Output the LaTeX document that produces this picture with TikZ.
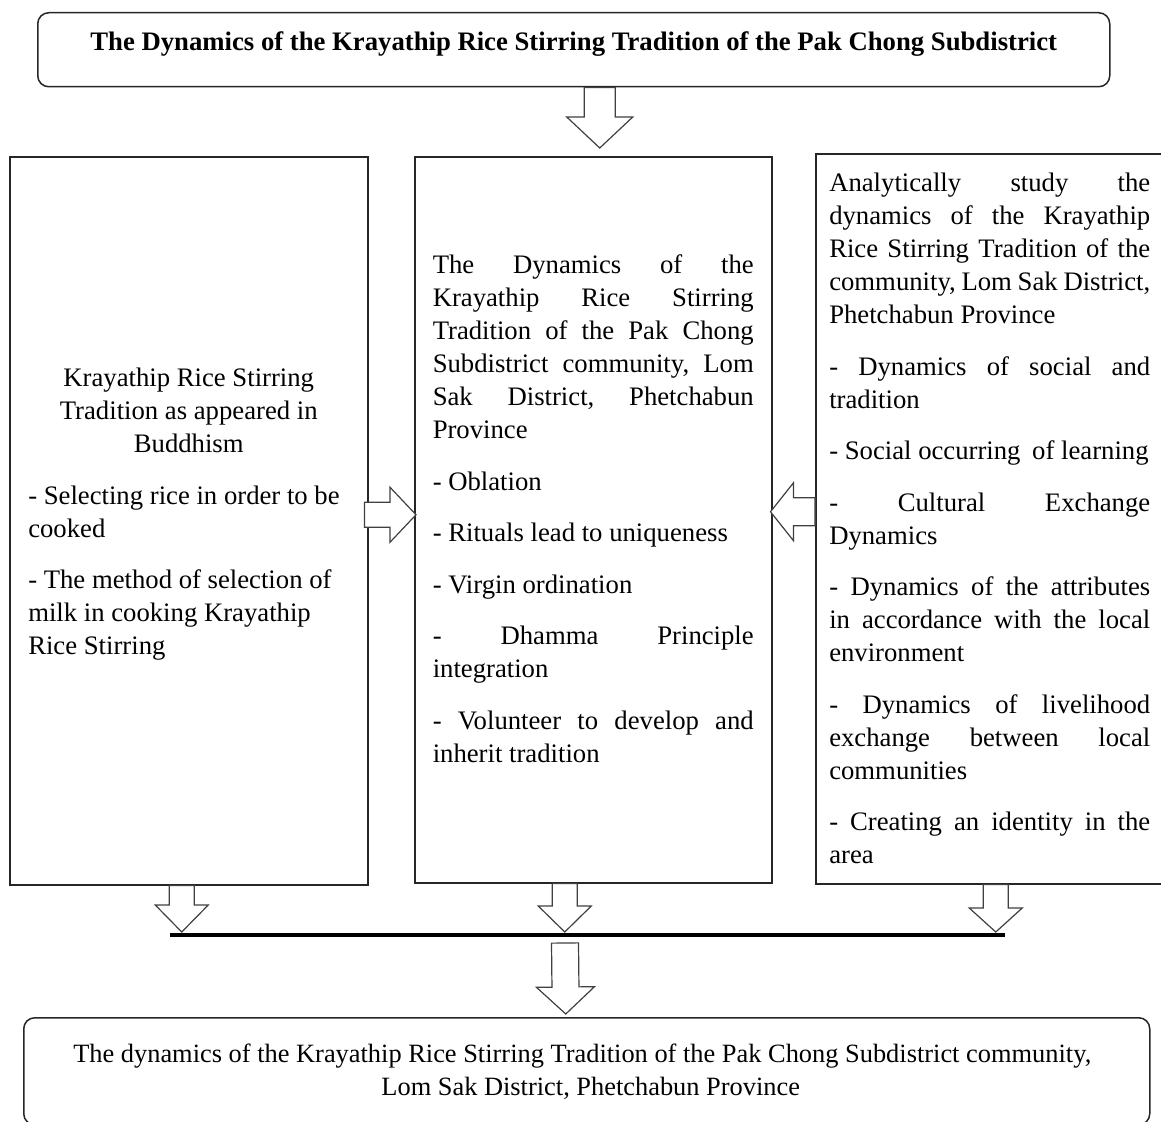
\documentclass[tikz,border=0pt]{standalone}
\usepackage{fontspec}
\setmainfont{Liberation Serif}
\usetikzlibrary{calc}
\frenchspacing

\newcommand{\blockarrow}[5]{%
    \coordinate (ah) at ($(#2)!#5!(#1)$);
    \draw[blockarrow] ($(#1)!#3!90:(#2)$) -- ($(ah)!#3!90:(#2)$) -- ($(ah)!#4!90:(#2)$) -- (#2)
        -- ($(ah)!#4!-90:(#2)$) -- ($(ah)!#3!-90:(#2)$) -- ($(#1)!#3!-90:(#2)$) -- cycle;
}
\newcommand{\lift}[1]{\rule[-#1]{0pt}{#1}}

\begin{document}
\begin{tikzpicture}[
        x=1pt, y=-1pt,
        every node/.style={font=\fontsize{26.7}{33}\selectfont, inner sep=0pt},
        roundbox/.style={draw=black!85, line width=1.5pt, rounded corners=11pt, anchor=north west},
        colbox/.style={draw=black!85, line width=1.5pt, anchor=north west, text width=321pt, align=justify,
            execute at begin node={\setlength{\parskip}{18.5pt}\hyphenpenalty=10000\tolerance=10000\hbadness=10000}},
        blockarrow/.style={draw=black!75, line width=1.2pt, fill=white},
        bar/.style={line width=3.5pt},
    ]
    \useasboundingbox (0,0) rectangle (1161,1121);

    \node[roundbox, minimum width=1072, minimum height=74, text height=19, text depth=17,
        font=\fontsize{26.7}{33}\selectfont\bfseries] (title) at (37,12)
        {The Dynamics of the Krayathip Rice Stirring Tradition of the Pak Chong Subdistrict};

    \node[colbox, minimum width=358, minimum height=728] (left) at (9,156) {%
        {\centering Krayathip Rice Stirring\\ Tradition as appeared in\\ Buddhism\par}
        \raggedright
        - Selecting rice in order to be\newline cooked\par
        - The method of selection of\newline milk in cooking Krayathip\newline Rice Stirring\lift{19pt}};

    \node[colbox, minimum width=357, minimum height=726] (mid) at (414,156) {%
        The Dynamics of the\linebreak Krayathip Rice Stirring\linebreak Tradition of the Pak Chong\linebreak
        Subdistrict community, Lom\linebreak Sak District, Phetchabun\linebreak Province\par
        - Oblation\par
        - Rituals lead to uniqueness\par
        - Virgin ordination\par
        - Dhamma Principle\linebreak integration\par
        - Volunteer to develop and\linebreak inherit tradition\lift{22pt}};

    \node[colbox, minimum width=348, minimum height=730] (right) at (815,153) {%
        Analytically study the\linebreak dynamics of the Krayathip\linebreak Rice Stirring Tradition of the\linebreak
        community, Lom Sak District,\linebreak Phetchabun Province\par
        - Dynamics of social and\linebreak tradition\par
        - Social occurring\hspace{5pt} of learning\par
        - Cultural Exchange\linebreak Dynamics\par
        - Dynamics of the attributes\linebreak in accordance with the local\linebreak environment\par
        - Dynamics of livelihood\linebreak exchange between local\linebreak communities\par
        - Creating an identity in the\linebreak area};

    \node[roundbox, minimum width=1126, minimum height=107, align=center,
        font=\fontsize{26.4}{33}\selectfont] (result) at (23,1017)
        {The dynamics of the Krayathip Rice Stirring Tradition of the Pak Chong Subdistrict community,\hspace*{9pt}\\
        Lom Sak District, Phetchabun Province\hspace*{-8pt}};

    \coordinate (barL) at (170,935);
    \coordinate (barR) at (1005,935);

    \coordinate (t0) at ($(title.south)+(26,0)$);
    \coordinate (t1) at ($(mid.north)+(6.5,-8)$);
    \coordinate (s0) at ($(left.east)+(-4,-6)$);
    \coordinate (s1) at ($(mid.west)+(2,-5)$);
    \coordinate (r0) at ($(right.west)+(0,-7)$);
    \coordinate (r1) at ($(mid.east)+(-2,-8)$);
    \coordinate (l0) at ($(left.south)+(-7,0)$);
    \coordinate (l1) at ($(l0 |- barL)+(0,-3)$);
    \coordinate (m0) at ($(mid.south)+(-28.5,0)$);
    \coordinate (m1) at ($(m0 |- barL)+(0,-3)$);
    \coordinate (k0) at ($(right.south)+(6,0)$);
    \coordinate (k1) at ($(k0 |- barL)+(0,-3)$);
    \coordinate (d0) at ($(barL)+(395,8)$);
    \coordinate (d1) at ($(result.north)+(-21,-3)$);

    \blockarrow{t0}{t1}{15.5pt}{33pt}{31pt}
    \blockarrow{s0}{s1}{12.5pt}{27.5pt}{26pt}
    \blockarrow{r0}{r1}{14pt}{29pt}{23pt}
    \blockarrow{l0}{l1}{12.5pt}{26.5pt}{27pt}
    \blockarrow{m0}{m1}{12.5pt}{26.5pt}{26pt}
    \blockarrow{k0}{k1}{12.5pt}{26.5pt}{24pt}
    \blockarrow{d0}{d1}{13.5pt}{29pt}{27pt}

    \draw[bar] (barL) -- (barR);
\end{tikzpicture}
\end{document}
